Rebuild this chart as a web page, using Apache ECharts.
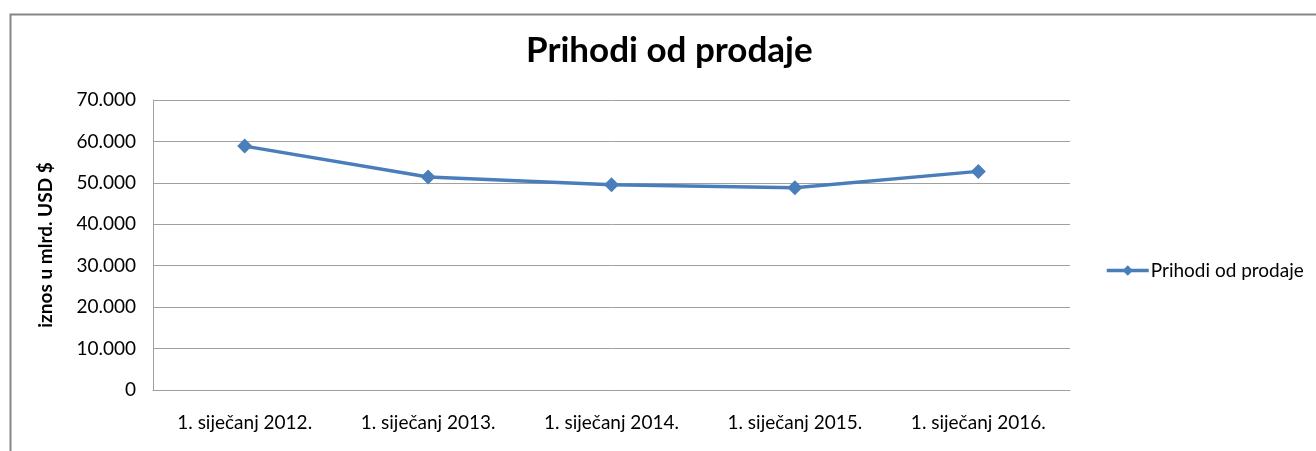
<!DOCTYPE html>
<html>
<head>
<meta charset="utf-8">
<script src="https://cdn.jsdelivr.net/npm/echarts@6/dist/echarts.min.js"></script>
<style>
html,body{margin:0;padding:0;background:#fff;}
#chart{width:1316px;height:451px;}
</style>
</head>
<body>
<div id="chart"></div>
<script>
const categories = ['1. siječanj 2012.', '1. siječanj 2013.', '1. siječanj 2014.', '1. siječanj 2015.', '1. siječanj 2016.'];
const seriesName = 'Prihodi od prodaje';
const values = [58870, 51400, 49570, 48840, 52770];
const yMin = 0, yMax = 70000, yStep = 10000;
const titleText = 'Prihodi od prodaje';
const yAxisName = 'iznos u mlrd. USD $';

const fmt = v => v === 0 ? '0' : String(v).replace(/\B(?=(\d{3})+(?!\d))/g, '.');

const chart = echarts.init(document.getElementById('chart'), null, {renderer: 'canvas'});
chart.setOption({
  animation: false,
  backgroundColor: '#fff',
  graphic: [{
    type: 'rect', left: 8, top: 12, shape: {width: 1400, height: 500},
    style: {fill: 'none', stroke: '#868686', lineWidth: 2}, silent: true, z: -1
  }],
  title: {
    text: titleText, left: 521, top: 28,
    textStyle: {fontFamily: 'Lato', fontWeight: 'bold', fontSize: 35, color: '#000'}
  },
  legend: {
    data: [seriesName], orient: 'vertical', itemWidth: 42, itemHeight: 13,
    left: 1100, top: 256, itemGap: 4, itemGap: 4,
    itemStyle: {color: '#4a7ebb'},
    lineStyle: {color: '#4a7ebb', width: 3.5},
    textStyle: {fontFamily: 'Lato', fontSize: 19, color: '#000', padding: [0, 0, 0, -3]}
  },
  grid: {left: 153, right: 246, top: 100, bottom: 61, containLabel: false},
  xAxis: {
    type: 'category', data: categories, boundaryGap: true,
    axisLine: {lineStyle: {color: '#a0a0a0', width: 1}},
    axisTick: {show: false},
    axisLabel: {fontFamily: 'Lato', fontSize: 19, color: '#000', margin: 23}
  },
  yAxis: {
    type: 'value', min: yMin, max: yMax, interval: yStep,
    name: yAxisName, nameLocation: 'middle', nameGap: 98, nameRotate: 90,
    nameTextStyle: {fontFamily: 'Lato', fontWeight: 'bold', fontSize: 19, color: '#000'},
    axisLine: {show: true, lineStyle: {color: '#a0a0a0'}},
    axisTick: {show: false},
    splitLine: {lineStyle: {color: '#a0a0a0', width: 1}},
    axisLabel: {fontFamily: 'Lato', fontSize: 19, color: '#000', margin: 17, formatter: fmt}
  },
  series: [{
    name: seriesName, type: 'line', data: values,
    symbol: 'diamond', symbolSize: 15,
    lineStyle: {color: '#4a7ebb', width: 3.5},
    itemStyle: {color: '#4a7ebb'}
  }]
});
</script>
</body>
</html>
